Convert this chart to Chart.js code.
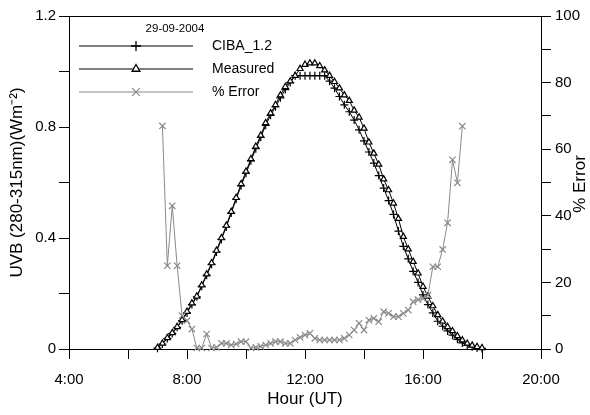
<!DOCTYPE html>
<html>
<head>
<meta charset="utf-8">
<script src="https://cdn.jsdelivr.net/npm/chart.js@4.4.0/dist/chart.umd.min.js"></script>
<style>
    html, body { margin: 0; padding: 0; background: #fff; }
    #wrap { width: 590px; height: 415px; }
</style>
</head>
<body>
<div id="wrap"><canvas id="uvb" width="590" height="415"></canvas></div>
<script>
// heures de mesure (pas de 10 min)
var times = [
    '7:00', '7:10', '7:20', '7:30', '7:40', '7:50',
    '8:00', '8:10', '8:20', '8:30', '8:40', '8:50',
    '9:00', '9:10', '9:20', '9:30', '9:40', '9:50',
    '10:00', '10:10', '10:20', '10:30', '10:40', '10:50',
    '11:00', '11:10', '11:20', '11:30', '11:40', '11:50',
    '12:00', '12:10', '12:20', '12:30', '12:40', '12:50',
    '13:00', '13:10', '13:20', '13:30', '13:40', '13:50',
    '14:00', '14:10', '14:20', '14:30', '14:40', '14:50',
    '15:00', '15:10', '15:20', '15:30', '15:40', '15:50',
    '16:00', '16:10', '16:20', '16:30', '16:40', '16:50',
    '17:00', '17:10', '17:20', '17:30', '17:40', '17:50',
    '18:00'
];

// UVB modèle CIBA_1.2 (W/m2)
var ciba = [
    0.003, 0.018, 0.038, 0.056, 0.078, 0.102,
    0.13, 0.16, 0.188, 0.226, 0.266, 0.305,
    0.35, 0.395, 0.44, 0.49, 0.54, 0.588,
    0.633, 0.678, 0.722, 0.763, 0.806, 0.842,
    0.873, 0.905, 0.935, 0.96, 0.985, 0.985,
    0.985, 0.985, 0.985, 0.985, 0.985, 0.965,
    0.94, 0.91, 0.88, 0.855, 0.825, 0.79,
    0.75, 0.71, 0.67, 0.625, 0.58, 0.535,
    0.485, 0.425, 0.37, 0.325, 0.28, 0.24,
    0.195, 0.16, 0.13, 0.10, 0.082, 0.065,
    0.05, 0.035, 0.022, 0.013, 0.008, 0.004,
    0.002
];

// UVB mesuré (W/m2)
var measured = [
    0.005, 0.02, 0.04, 0.058, 0.08, 0.105,
    0.135, 0.165, 0.19, 0.23, 0.27, 0.31,
    0.355, 0.40, 0.445, 0.495, 0.545, 0.595,
    0.64, 0.685, 0.73, 0.77, 0.815, 0.85,
    0.88, 0.915, 0.945, 0.965, 0.985, 1.01,
    1.025, 1.03, 1.03, 1.02, 1.005, 0.985,
    0.963, 0.94, 0.915, 0.895, 0.86, 0.835,
    0.795, 0.745, 0.705, 0.665, 0.612, 0.573,
    0.525, 0.47, 0.405, 0.36, 0.315, 0.273,
    0.225, 0.19, 0.155, 0.123, 0.10, 0.08,
    0.065, 0.047, 0.032, 0.02, 0.013, 0.008,
    0.004
];

// erreur relative (%)
var pctError = [
    null, 67, 25, 43, 25, 10,
    8.5, 6, 0.3, 0.3, 4.5, 0.3,
    0.5, 1.7, 1.7, 1.2, 1.5, 2.2,
    2.2, 0.3, 0.5, 0.8, 1.2, 1.7,
    2.2, 2.2, 1.7, 1.7, 2.7, 3.5,
    4.2, 4.7, 3.2, 2.7, 2.7, 2.7,
    2.7, 2.7, 3.2, 4.2, 5.7, 7.7,
    5.7, 8.7, 9.2, 8.2, 11.2, 10.7,
    9.7, 9.7, 10.7, 11.7, 14.2, 14.8,
    15.2, 16.2, 24.7, 24.7, 29.9, 37.9,
    56.8, 49.9, 66.9, null, null, null,
    null
];

var xTickLabels = ['4:00', '8:00', '12:00', '16:00', '20:00'];
var yTickLabels = ['0', '0.4', '0.8', '1.2'];
var y2TickLabels = ['0', '20', '40', '60', '80', '100'];

var FONT = 'Liberation Sans, Arial, sans-serif';

function toHours(t) {
    var p = t.split(':');
    return parseInt(p[0], 10) + parseInt(p[1], 10) / 60;
}

function toPoints(values) {
    return times.map(function (t, i) {
        return { x: toHours(t), y: values[i] };
    });
}

function pickLabel(v, step, labels) {
    var k = v / step;
    if (Math.abs(k - Math.round(k)) > 1e-6) return '';
    return labels[Math.round(k)] || '';
}

var series = [
    { label: 'CIBA_1.2', values: ciba, axis: 'y', color: '#000', style: 'cross', radius: 4, fill: '#000' },
    { label: 'Measured', values: measured, axis: 'y', color: '#000', style: 'triangle', radius: 3.5, fill: '#fff' },
    { label: '% Error', values: pctError, axis: 'y2', color: '#8a8a8a', style: 'crossRot', radius: 4.5, fill: '#8a8a8a' }
];

// légende dessinée à la main (trait long + marqueur au milieu)
var legendPlugin = {
    id: 'customLegend',
    afterDraw: function (chart) {
        var ctx = chart.ctx;
        ctx.save();
        ctx.fillStyle = '#000';
        ctx.font = '11.5px ' + FONT;
        ctx.textAlign = 'center';
        ctx.textBaseline = 'middle';
        ctx.fillText('29-09-2004', 175, 29);

        var ys = [46, 69, 92];
        series.forEach(function (s, i) {
            var y = ys[i];
            ctx.strokeStyle = s.color;
            ctx.lineWidth = 1;
            ctx.beginPath();
            ctx.moveTo(79, y);
            ctx.lineTo(193, y);
            ctx.stroke();
            ctx.fillStyle = s.fill;
            ctx.strokeStyle = s.color;
            ctx.lineWidth = 1.3;
            Chart.helpers.drawPoint(ctx, {
                pointStyle: s.style, radius: s.radius + 1, rotation: 0, borderWidth: 1.3
            }, 136, y);
            ctx.fillStyle = '#000';
            ctx.font = '14px ' + FONT;
            ctx.textAlign = 'left';
            ctx.fillText(s.label, 212, y);
        });
        ctx.restore();
    }
};

// cadre du haut + titre de l'axe droit
var framePlugin = {
    id: 'frame',
    afterDraw: function (chart) {
        var ctx = chart.ctx;
        var a = chart.chartArea;
        ctx.save();
        ctx.strokeStyle = '#000';
        ctx.lineWidth = 1;
        ctx.beginPath();
        ctx.moveTo(a.left, a.top + 0.5);
        ctx.lineTo(a.right, a.top + 0.5);
        ctx.stroke();

        ctx.translate(580, 184);
        ctx.rotate(-Math.PI / 2);
        ctx.fillStyle = '#000';
        ctx.font = '17px ' + FONT;
        ctx.textAlign = 'center';
        ctx.textBaseline = 'middle';
        ctx.fillText('% Error', 0, 0);
        ctx.restore();
    }
};

var ctx = document.getElementById('uvb');

var myChart = new Chart(ctx, {
    type: 'line',
    data: {
        datasets: series.map(function (s, i) {
            return {
                label: s.label,
                data: toPoints(s.values),
                yAxisID: s.axis,
                borderColor: s.color,
                borderWidth: 1,
                pointStyle: s.style,
                pointRadius: s.radius,
                pointBorderColor: s.color,
                pointBackgroundColor: s.fill,
                pointBorderWidth: 1.2,
                fill: false,
                tension: 0,
                clip: false,
                order: 3 - i
            };
        })
    },
    options: {
        responsive: false,
        maintainAspectRatio: false,
        animation: false,
        devicePixelRatio: 1,
        layout: { padding: { top: 16, left: 0, right: 0, bottom: 0 } },
        plugins: {
            legend: { display: false },
            tooltip: { enabled: false }
        },
        scales: {
            x: {
                type: 'linear',
                min: 4,
                max: 20,
                afterFit: function (scale) { scale.height = 66; },
                ticks: {
                    stepSize: 2,
                    autoSkip: false,
                    maxRotation: 0,
                    color: '#000',
                    padding: 12,
                    font: { family: FONT, size: 15 },
                    callback: function (v) { return pickLabel(v - 4, 4, xTickLabels); }
                },
                grid: { drawOnChartArea: false, color: '#000', tickLength: 10 },
                border: { display: true, color: '#000', width: 1 },
                title: {
                    display: true,
                    text: 'Hour (UT)',
                    color: '#000',
                    font: { family: FONT, size: 17 },
                    padding: { top: 0, bottom: 5 }
                }
            },
            y: {
                position: 'left',
                min: 0,
                max: 1.2,
                afterFit: function (scale) { scale.width = 69; },
                ticks: {
                    stepSize: 0.2,
                    color: '#000',
                    padding: 3,
                    font: { family: FONT, size: 15 },
                    callback: function (v) { return pickLabel(v, 0.4, yTickLabels); }
                },
                grid: { drawOnChartArea: false, color: '#000', tickLength: 10 },
                border: { display: true, color: '#000', width: 1 },
                title: {
                    display: true,
                    text: 'UVB (280-315nm)(Wm\u207B\u00B2)',
                    color: '#000',
                    font: { family: FONT, size: 17 },
                    padding: { top: 7, bottom: 0 }
                }
            },
            y2: {
                position: 'right',
                min: 0,
                max: 100,
                afterFit: function (scale) { scale.width = 49; },
                ticks: {
                    stepSize: 10,
                    color: '#000',
                    padding: 4,
                    font: { family: FONT, size: 15 },
                    callback: function (v) { return pickLabel(v, 20, y2TickLabels); }
                },
                grid: { drawOnChartArea: false, color: '#000', tickLength: 10 },
                border: { display: true, color: '#000', width: 1 }
            }
        }
    },
    plugins: [legendPlugin, framePlugin]
});
</script>
</body>
</html>
